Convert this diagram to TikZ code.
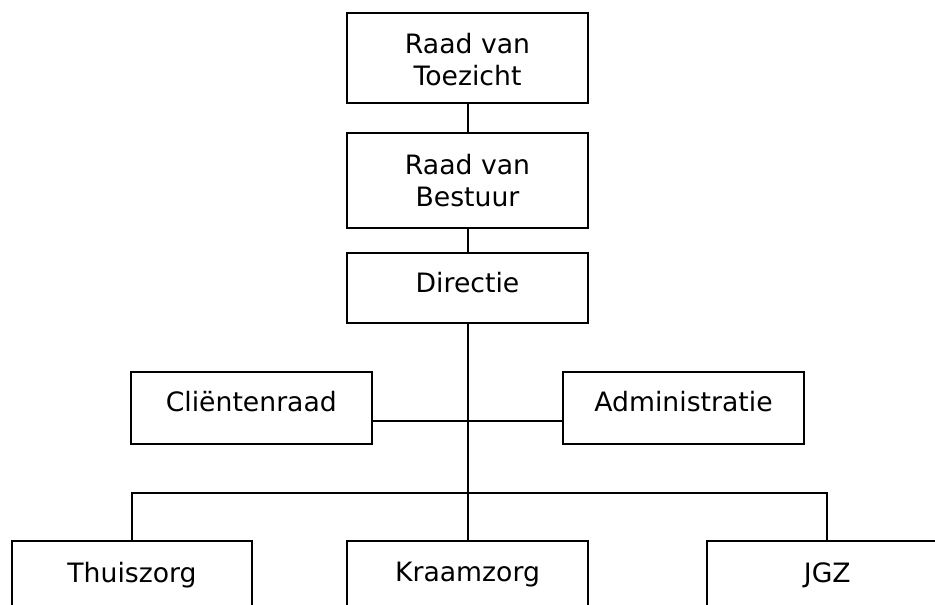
\documentclass[tikz,border=0pt]{standalone}
\usepackage{fontspec}
\setmainfont{DejaVu Sans}
\begin{document}
\begin{tikzpicture}[x=0.75pt,y=-0.75pt,
  box/.style={draw=black, line width=1.5pt, minimum width=240.5*0.75pt, inner sep=0pt, outer sep=0pt},
  txt/.style={font=\fontsize{20}{24}\selectfont, align=center, inner sep=0pt, anchor=north},
  conn/.style={draw=black, line width=1.5pt}]
\clip (0,0) rectangle (935,605);
\useasboundingbox (0,0) rectangle (935,605);
% boxes
\node[box, minimum height=90.3*0.75pt] (rvt) at (467.5,57.85) {};
\node[box, minimum height=95*0.75pt] (rvb) at (467.5,180.5) {};
\node[box, minimum height=70*0.75pt] (dir) at (467.5,288) {};
\node[box, minimum height=72*0.75pt] (cli) at (251.3,408) {};
\node[box, minimum height=72*0.75pt] (adm) at (683.5,408) {};
\node[box, minimum height=110*0.75pt] (thu) at (132,596) {};
\node[box, minimum height=110*0.75pt] (kra) at (467.5,596) {};
\node[box, minimum height=110*0.75pt] (jgz) at (827.3,596) {};
% texts
\node[txt] (trvt) at ([yshift=-20*0.75pt]rvt.north) {Raad van\\Toezicht};
\node[txt] (trvb) at ([yshift=-21*0.75pt]rvb.north) {Raad van\\Bestuur};
\node[txt] (tdir) at ([yshift=-19*0.75pt]dir.north) {Directie};
\node[txt] (tcli) at ([yshift=-19*0.75pt]cli.north) {Cliëntenraad};
\node[txt] (tadm) at ([yshift=-19*0.75pt]adm.north) {Administratie};
\node[txt] (tthu) at ([yshift=-21*0.75pt]thu.north) {Thuiszorg};
\node[txt] (tkra) at ([yshift=-21*0.75pt]kra.north) {Kraamzorg};
\node[txt] (tjgz) at ([yshift=-21*0.75pt]jgz.north) {JGZ};
% connectors
\coordinate (hj) at (467.5,420.7);
\coordinate (bar) at (467.5,492.7);
\draw[conn] (rvt.south) -- (rvb.north);
\draw[conn] (rvb.south) -- (dir.north);
\draw[conn] (dir.south) -- (kra.north);
\draw[conn] (cli.east |- hj) -- (adm.west |- hj);
\draw[conn] (thu.north) |- (bar) -| (jgz.north);
\end{tikzpicture}
\end{document}
